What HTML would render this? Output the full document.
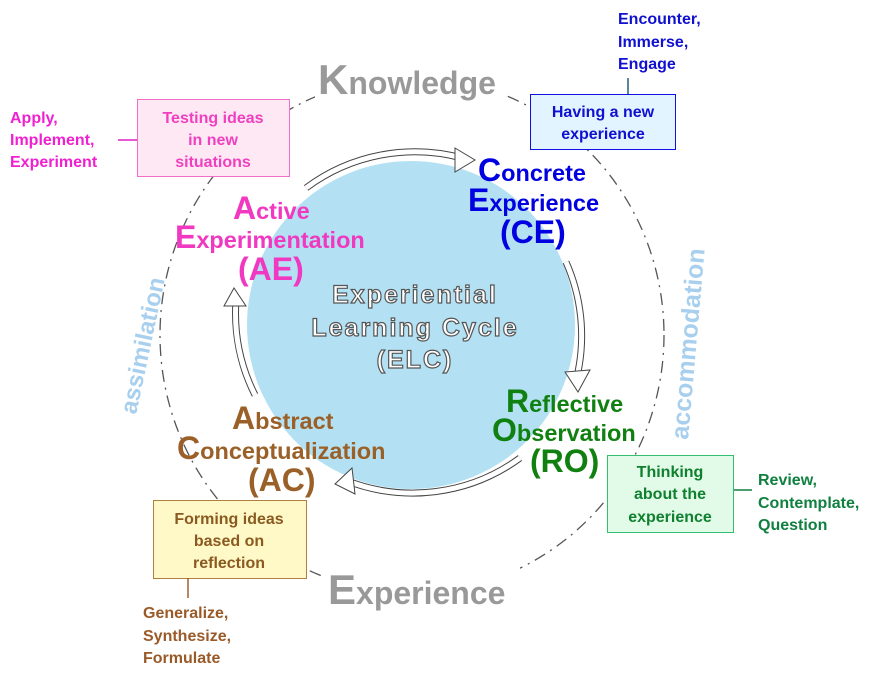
<!DOCTYPE html>
<html><head><meta charset="utf-8"><style>
html,body{margin:0;padding:0;background:#fff;}
svg{display:block;font-family:"Liberation Sans",sans-serif;font-weight:bold;}
</style></head><body>
<svg width="892" height="679" viewBox="0 0 892 679" xmlns="http://www.w3.org/2000/svg">
<ellipse cx="412" cy="335" rx="252" ry="258" fill="none" stroke="#555" stroke-width="1.3" stroke-dasharray="12 6 2 6"/>
<circle cx="411" cy="325" r="164" fill="#b3e1f3"/>
<g fill="none" stroke-linecap="butt">
<path d="M306 188 A182 182 0 0 1 462 158" stroke="#444" stroke-width="7"/>
<path d="M306 188 A182 182 0 0 1 462 158" stroke="#fff" stroke-width="5"/>
<path d="M566 262 A182 182 0 0 1 578 372" stroke="#444" stroke-width="7"/>
<path d="M566 262 A182 182 0 0 1 578 372" stroke="#fff" stroke-width="5"/>
<path d="M520 458 A182 182 0 0 1 345 480" stroke="#444" stroke-width="7"/>
<path d="M520 458 A182 182 0 0 1 345 480" stroke="#fff" stroke-width="5"/>
<path d="M255 395 A182 182 0 0 1 236 300" stroke="#444" stroke-width="7"/>
<path d="M255 395 A182 182 0 0 1 236 300" stroke="#fff" stroke-width="5"/>
</g>
<g fill="#fff" stroke="#444" stroke-width="1">
<polygon points="455,148 475,160 455,172"/>
<polygon points="565,372 578,392 590,370"/>
<polygon points="352,468 335,484 355,494"/>
<polygon points="224,306 234,288 246,306"/>
</g>
<rect x="315" y="58" width="190" height="40" fill="#fff"/>
<text x="318" y="94" font-size="42" fill="#999">K<tspan font-size="32">nowledge</tspan></text>
<rect x="325" y="565" width="195" height="40" fill="#fff"/>
<text x="328" y="604" font-size="42" fill="#999">E<tspan font-size="32">xperience</tspan></text>
<text transform="translate(136,415) rotate(-78)" font-size="24" fill="#a8d0ee">assimilation</text>
<text transform="translate(688,440) rotate(-85)" font-size="25" fill="#a8d0ee">accommodation</text>
<rect x="137.5" y="99.5" width="152" height="77" fill="#fde8f4" stroke="#f070c8"/>
<rect x="530.5" y="94.5" width="145" height="55" fill="#e2f4ff" stroke="#1010e0"/>
<rect x="607.5" y="455.5" width="126" height="77" fill="#e2fbe8" stroke="#30c070"/>
<rect x="153.5" y="500.5" width="153" height="78" fill="#fff9c8" stroke="#b08040"/>
<line x1="118" y1="140" x2="137" y2="140" stroke="#e020c0" stroke-width="1.5"/>
<line x1="628" y1="78" x2="628" y2="94" stroke="#206080" stroke-width="1.5"/>
<line x1="734" y1="490" x2="752" y2="490" stroke="#108040" stroke-width="1.5"/>
<line x1="188" y1="578" x2="188" y2="598" stroke="#a06030" stroke-width="1.5"/>
<g font-size="16" text-anchor="middle">
<text fill="#f040c0"><tspan x="213" y="123">Testing ideas</tspan><tspan x="213" y="145">in new</tspan><tspan x="213" y="167">situations</tspan></text>
<text fill="#1010d0"><tspan x="603" y="117">Having a new</tspan><tspan x="603" y="139">experience</tspan></text>
<text fill="#108030"><tspan x="670" y="477">Thinking</tspan><tspan x="670" y="499">about the</tspan><tspan x="670" y="522">experience</tspan></text>
<text fill="#8a5a20"><tspan x="229" y="524">Forming ideas</tspan><tspan x="229" y="546">based on</tspan><tspan x="229" y="568">reflection</tspan></text>
</g>
<g font-size="16">
<text fill="#f020d0"><tspan x="10" y="123">Apply,</tspan><tspan x="10" y="145">Implement,</tspan><tspan x="10" y="167">Experiment</tspan></text>
<text fill="#1010d0"><tspan x="618" y="24">Encounter,</tspan><tspan x="618" y="47">Immerse,</tspan><tspan x="618" y="69">Engage</tspan></text>
<text fill="#108040"><tspan x="758" y="485">Review,</tspan><tspan x="758" y="508">Contemplate,</tspan><tspan x="758" y="530">Question</tspan></text>
<text fill="#9a5a28"><tspan x="143" y="618">Generalize,</tspan><tspan x="143" y="641">Synthesize,</tspan><tspan x="143" y="663">Formulate</tspan></text>
</g>
<g font-size="23.5">
<text x="478" y="181" fill="#0000e0"><tspan font-size="32">C</tspan>oncrete</text>
<text x="468" y="211" fill="#0000e0"><tspan font-size="32">E</tspan>xperience</text>
<text x="500" y="243" font-size="32" fill="#0000e0">(CE)</text>
<text x="233" y="219" fill="#f038c0"><tspan font-size="32">A</tspan>ctive</text>
<text x="175" y="248" fill="#f038c0"><tspan font-size="32">E</tspan>xperimentation</text>
<text x="238" y="280" font-size="32" fill="#f038c0">(AE)</text>
<text x="506" y="412" fill="#108010"><tspan font-size="32">R</tspan>eflective</text>
<text x="492" y="441" fill="#108010"><tspan font-size="32">O</tspan>bservation</text>
<text x="530" y="472" font-size="32" fill="#108010">(RO)</text>
<text x="232" y="429" fill="#9a6028"><tspan font-size="32">A</tspan>bstract</text>
<text x="177" y="459" fill="#9a6028"><tspan font-size="32">C</tspan>onceptualization</text>
<text x="248" y="491" font-size="32" fill="#9a6028">(AC)</text>
</g>
<g font-size="25" fill="#fff" stroke="#555" stroke-width="1.2" text-anchor="middle" letter-spacing="2">
<text x="415" y="303">Experiential</text>
<text x="415" y="336">Learning Cycle</text>
<text x="415" y="368">(ELC)</text>
</g>
</svg>
</body></html>
